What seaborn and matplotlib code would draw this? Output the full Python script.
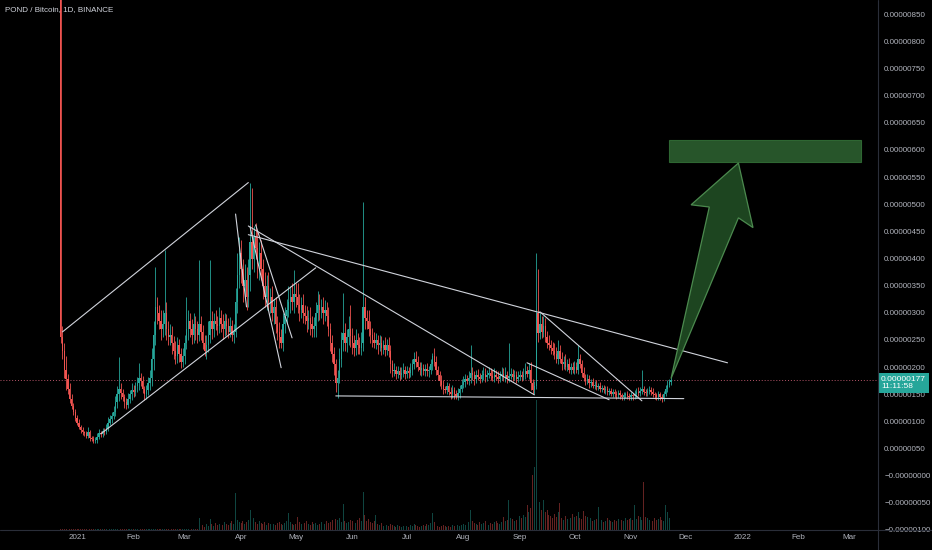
import numpy as np
import pandas as pd
import matplotlib
matplotlib.use("Agg")
import matplotlib.pyplot as plt
import matplotlib.dates as mdates
import matplotlib.transforms as mtransforms
from matplotlib.lines import Line2D
from matplotlib.patches import Polygon, Rectangle
from matplotlib.ticker import FuncFormatter
import seaborn as sns

sns.set_theme(style="dark", rc={"axes.facecolor": "black", "figure.facecolor": "black"})
plt.rcParams["font.family"] = ["Liberation Sans", "DejaVu Sans"]

# daily POND/BTC candles, prices in satoshi (1e-8 BTC)
first_day = "2020-12-23"
first_open = 950
closes = [
    255, 230, 195, 178, 160, 142, 128, 118, 106,  # Dec
    98, 90, 84, 80, 78, 74, 80, 70, 68, 64, 66, 72, 78, 76, 82, 80, 88, 98, 104, 110,
    118, 135, 150, 160, 152, 145, 135, 130, 142, 150, 158,  # Jan
    155, 165, 170, 180, 175, 160, 150, 158, 170, 180, 215, 260, 310, 300, 285, 270, 280, 300,
    270, 255, 260, 245, 230, 220, 240, 225, 210, 220,  # Feb
    245, 270, 285, 270, 260, 280, 270, 260, 280, 265, 245, 230, 240, 260, 285, 270, 285, 280,
    275, 290, 280, 270, 285, 275, 265, 275, 260, 265, 320, 370, 410,  # Mar
    380, 350, 360, 330, 370, 430, 400, 440, 420, 390, 410, 380, 350, 330, 350, 320, 330, 300,
    310, 280, 265, 255, 245, 280, 295, 305, 320, 330, 320, 335,  # Apr
    330, 315, 305, 315, 300, 295, 285, 290, 280, 270, 275, 300, 315, 305, 310, 300, 305, 295,
    270, 245, 225, 205, 170, 180, 215, 250, 262, 245, 255, 270, 258,  # May
    245, 235, 250, 240, 235, 245, 310, 290, 285, 270, 260, 250, 245, 250, 240, 245, 235, 240,
    232, 240, 230, 205, 192, 195, 188, 192, 186, 190, 195, 188,  # Jun
    192, 190, 195, 205, 215, 210, 200, 195, 198, 193, 196, 192, 195, 205, 220, 210, 195, 185,
    175, 168, 160, 158, 165, 155, 150, 158, 150, 146, 152, 160, 168,  # Jul
    172, 178, 175, 180, 190, 185, 178, 185, 182, 178, 185, 188, 182, 186, 190, 184, 180, 186,
    182, 178, 184, 188, 181, 185, 180, 184, 188, 182, 185, 178, 182,  # Aug
    185, 182, 186, 192, 188, 195, 170, 158, 165, 300, 262, 280, 265, 275, 255, 245, 240, 235,
    230, 225, 215, 230, 215, 205, 210, 200, 205, 195, 200, 195,  # Sep
    200, 195, 215, 205, 190, 180, 175, 178, 170, 172, 166, 168, 163, 165, 160, 162, 157, 160,
    154, 156, 151, 154, 150, 148, 152, 148, 145, 148, 150, 147, 145,  # Oct
    148, 146, 150, 155, 152, 156, 160, 155, 152, 156, 158, 155, 150, 148, 145, 150, 145, 142,
    150, 160, 168, 172, 177,  # Nov
]
wick_up = [
    150, 20, 15, 25, 10, 10, 8, 6, 5,
    5, 6, 4, 5, 3, 4, 10, 5, 4, 6, 5, 6, 8, 4, 6, 5, 8, 10, 7, 8, 10, 12, 15, 59, 10, 8, 6, 8, 10, 8, 12,
    10, 8, 12, 28, 10, 8, 6, 10, 12, 15, 20, 25, 75, 20, 15, 20, 25, 116, 20, 15, 20, 15, 12, 18, 15, 12, 10, 15,
    15, 60, 20, 15, 18, 20, 15, 15, 118, 15, 12, 15, 20, 25, 113, 18, 15, 20, 15, 20, 15, 18, 15, 12, 15, 18, 12, 15, 25, 40, 30,
    25, 20, 30, 25, 30, 109, 100, 20, 25, 30, 20, 25, 20, 25, 20, 25, 15, 20, 15, 20, 15, 18, 15, 20, 15, 20, 30, 20, 25, 44,
    20, 25, 20, 15, 20, 15, 18, 15, 20, 15, 18, 20, 25, 20, 15, 20, 18, 15, 15, 12, 15, 12, 10, 15, 20, 15, 75, 20, 15, 25, 45,
    15, 15, 20, 12, 15, 20, 195, 20, 15, 20, 15, 12, 15, 12, 10, 15, 12, 10, 15, 12, 15, 10, 8, 12, 8, 10, 8, 10, 12, 8,
    10, 8, 12, 10, 12, 15, 10, 10, 12, 8, 10, 12, 8, 10, 6, 15, 10, 8, 8, 10, 8, 6, 8, 6, 8, 10, 6, 8, 10, 8, 10,
    12, 10, 8, 12, 51, 10, 8, 10, 12, 8, 10, 12, 10, 8, 10, 8, 10, 12, 8, 10, 8, 12, 10, 15, 8, 61, 10, 8, 10, 8, 10,
    10, 8, 12, 15, 10, 12, 15, 8, 10, 110, 80, 20, 15, 20, 15, 12, 15, 10, 12, 15, 12, 20, 10, 12, 10, 15, 10, 12, 8, 10,
    12, 10, 25, 10, 8, 10, 8, 10, 8, 6, 8, 6, 8, 6, 8, 6, 5, 6, 5, 6, 5, 6, 5, 6, 5, 6, 5, 6, 5, 6, 5,
    6, 5, 8, 6, 8, 8, 35, 6, 5, 6, 8, 5, 6, 5, 5, 6, 5, 5, 6, 8, 8, 6, 5,
]
wick_dn = [
    10, 15, 15, 20, 10, 8, 6, 6, 5,
    5, 4, 6, 5, 4, 5, 4, 6, 4, 3, 4, 5, 4, 5, 4, 5, 4, 6, 5, 6, 5, 8, 10, 12, 10, 8, 10, 8, 6, 8, 10,
    10, 8, 10, 12, 10, 8, 10, 8, 10, 12, 15, 20, 20, 20, 15, 20, 15, 20, 20, 15, 15, 20, 15, 15, 12, 15, 12, 10,
    15, 12, 20, 15, 18, 15, 20, 15, 12, 15, 12, 10, 15, 12, 15, 18, 15, 12, 15, 12, 15, 18, 12, 15, 12, 10, 12, 15, 10, 20, 25,
    25, 30, 20, 25, 20, 30, 20, 25, 20, 25, 30, 20, 25, 20, 25, 15, 20, 15, 20, 18, 15, 20, 10, 15, 18, 15, 12, 20, 15, 20,
    20, 15, 20, 15, 18, 15, 20, 15, 20, 15, 15, 20, 15, 18, 15, 20, 15, 20, 12, 15, 15, 20, 15, 27, 10, 15, 20, 15, 18, 15, 20,
    20, 15, 12, 15, 10, 12, 15, 20, 15, 12, 15, 12, 10, 12, 15, 10, 12, 10, 12, 10, 12, 15, 10, 8, 10, 8, 10, 8, 8, 10,
    8, 10, 8, 10, 8, 10, 8, 10, 12, 8, 10, 8, 10, 8, 10, 8, 10, 8, 10, 8, 10, 6, 8, 6, 8, 6, 8, 5, 6, 8, 6,
    6, 8, 6, 8, 10, 8, 10, 8, 6, 8, 6, 8, 10, 8, 6, 8, 6, 8, 6, 8, 6, 8, 6, 8, 10, 8, 6, 8, 6, 8, 6,
    6, 8, 6, 8, 6, 10, 12, 8, 8, 5, 15, 10, 12, 10, 8, 10, 8, 10, 8, 10, 8, 10, 8, 10, 8, 6, 8, 6, 8, 6,
    8, 6, 8, 6, 8, 6, 8, 6, 8, 6, 5, 6, 5, 6, 5, 6, 5, 6, 5, 6, 5, 6, 5, 6, 5, 6, 5, 6, 5, 6, 5,
    5, 6, 5, 6, 5, 6, 5, 6, 5, 6, 5, 6, 5, 6, 5, 6, 5, 6, 5, 4, 5, 4, 5,
]
volume = [
    1, 1, 1, 1, 1, 1, 1, 1, 1,
    1, 1, 1, 1, 1, 1, 1, 1, 1, 1, 1, 1, 1, 1, 1, 1, 1, 1, 1, 1, 1, 1, 1, 1, 1, 1, 1, 1, 1, 1, 1,
    1, 1, 1, 1, 1, 1, 1, 1, 1, 1, 1, 1, 1, 1, 1, 1, 1, 1, 1, 1, 1, 1, 1, 1, 1, 1, 1, 1,
    1, 1, 1, 1, 1, 1, 1, 1, 12, 4, 5, 3, 6, 4, 11, 6, 4, 7, 5, 6, 4, 5, 8, 6, 5, 7, 9, 6, 37, 10, 8,
    7, 9, 6, 8, 10, 20, 15, 12, 8, 6, 9, 7, 6, 8, 5, 7, 6, 9, 6, 5, 7, 8, 6, 5, 7, 9, 17, 8, 6, 5,
    6, 13, 8, 6, 5, 7, 9, 6, 5, 8, 6, 7, 5, 6, 8, 7, 6, 9, 7, 8, 10, 9, 11, 10, 12, 8, 26, 9, 7, 8, 10,
    9, 8, 7, 10, 12, 9, 38, 15, 9, 11, 8, 7, 9, 15, 6, 5, 7, 4, 6, 5, 4, 6, 5, 4, 3, 5, 4, 3, 4, 5,
    4, 3, 5, 4, 6, 5, 4, 3, 4, 5, 4, 6, 5, 7, 17, 8, 5, 4, 3, 4, 5, 4, 3, 4, 3, 5, 4, 6, 5, 4, 5,
    6, 5, 7, 8, 20, 9, 7, 6, 5, 8, 6, 7, 9, 6, 5, 7, 6, 8, 9, 7, 6, 8, 13, 9, 10, 30, 12, 11, 9, 10, 12,
    14, 12, 15, 13, 25, 18, 22, 55, 63, 130, 40, 28, 20, 30, 18, 20, 15, 14, 12, 16, 13, 18, 27, 12, 10, 14, 11, 15, 12, 16,
    13, 14, 18, 12, 11, 19, 14, 13, 10, 12, 9, 10, 11, 23, 9, 10, 8, 9, 12, 10, 9, 8, 10, 9, 11, 8, 10, 9, 12, 10, 11,
    12, 10, 25, 11, 14, 13, 10, 48, 13, 12, 10, 11, 9, 12, 10, 11, 13, 10, 9, 25, 18, 12, 8,
]

# drawings (date, price) pairs
trend_lines = [
    (("2020-12-24", 265), ("2021-04-05", 540)),
    (("2021-01-14", 77), ("2021-05-12", 383)),
    (("2021-04-05", 444), ("2021-12-24", 208)),
    (("2021-04-05", 460), ("2021-09-09", 149)),
    (("2021-05-23", 147), ("2021-11-30", 142)),
    (("2021-09-12", 302), ("2021-11-07", 138)),
    (("2021-09-05", 208), ("2021-10-20", 140)),
    (("2021-03-29", 482), ("2021-04-04", 311)),
    (("2021-04-06", 458), ("2021-04-23", 199)),
    (("2021-04-09", 462), ("2021-04-29", 254)),
]
target_dates = ("2021-11-22", "2022-03-07")
target_prices = (578, 619)
arrow_dates = ["2021-12-30", "2022-01-07", "2021-12-30", "2021-11-23", "2021-12-14", "2021-12-04"]
arrow_prices = [576, 457, 475, 179, 495, 499]

UP, DOWN = "#26a69a", "#ef5350"
TXT = "#b2b5be"
EDGE = "#2a2e39"

dates = pd.date_range(first_day, periods=len(closes), freq="D")
x = mdates.date2num(dates)
c = np.array(closes, float)
o = np.r_[first_open, c[:-1]]
hi = np.maximum(o, c) + np.array(wick_up)
lo = np.minimum(o, c) - np.array(wick_dn)
up = c >= o
cols = np.where(up, UP, DOWN)

W, H = 932, 550
fig = plt.figure(figsize=(W / 100, H / 100), dpi=100)
ax = fig.add_axes([0, 20 / H, 878 / W, 530 / H])
axv = ax.twinx()

# volume
axv.bar(x, volume, width=0.5, color=cols, alpha=0.42, linewidth=0)
axv.set_ylim(0, 530)
axv.set_yticks([])
for s in axv.spines.values():
    s.set_visible(False)
ax.set_zorder(axv.get_zorder() + 1)
ax.patch.set_visible(False)

# candles
ax.vlines(x, lo, hi, colors=cols, linewidth=0.6, zorder=3)
ax.bar(x, np.maximum(np.abs(c - o), 1.0), bottom=np.minimum(o, c), width=0.72,
       color=cols, linewidth=0, zorder=4)

# last price line
ax.axhline(c[-1], color="#b8566a", linestyle=(0, (1, 2)), linewidth=0.7, zorder=2)

# trend lines
for (d0, p0), (d1, p1) in trend_lines:
    xs = mdates.date2num(pd.to_datetime([d0, d1]))
    sns.lineplot(x=xs, y=[p0, p1], ax=ax, color="#d1d4dc", linewidth=0.8, zorder=5)

# target box and arrow
tx = mdates.date2num(pd.to_datetime(list(target_dates)))
ax.add_patch(Rectangle((tx[0], target_prices[0]), tx[1] - tx[0],
                       target_prices[1] - target_prices[0],
                       facecolor="#27552a", edgecolor="#2e6632", linewidth=0.8, zorder=6))
ax_pts = np.column_stack([mdates.date2num(pd.to_datetime(arrow_dates)), arrow_prices])
ax.add_patch(Polygon(ax_pts, closed=True, facecolor="#1f4a22", edgecolor="#4f8f52",
                     linewidth=0.9, alpha=0.95, zorder=6))

jan1 = mdates.date2num(pd.Timestamp("2021-01-01"))
ax.set_xlim(jan1 - 42.3, jan1 + 439.6)
ax.set_ylim(-99.4, 876.3)

ticks = pd.date_range("2021-01-01", "2022-03-01", freq="MS")
ax.set_xticks(mdates.date2num(ticks))
ax.set_xticklabels([str(d.year) if d.month == 1 else d.strftime("%b") for d in ticks])
ax.set_yticks(np.arange(-100, 851, 50))
ax.yaxis.set_major_formatter(FuncFormatter(
    lambda v, p: ("\u2212" if v <= 0 else "") + f"{abs(v) * 1e-8:.8f}"))
ax.yaxis.tick_right()
ax.tick_params(axis="y", length=0, pad=4.5, labelsize=5.8, labelcolor=TXT)
ax.tick_params(axis="x", length=0, pad=3, labelsize=5.8, labelcolor=TXT)
ax.set_xlabel("")
ax.set_ylabel("")
ax.grid(False)
for s in ax.spines.values():
    s.set_visible(False)

fig.add_artist(Line2D([878 / W, 878 / W], [0, 1], color=EDGE, linewidth=0.8))
fig.add_artist(Line2D([0, 1], [20 / H, 20 / H], color=EDGE, linewidth=0.8))

# last price label
trans = mtransforms.blended_transform_factory(ax.transAxes, ax.transData)
ax.annotate(f"{c[-1] * 1e-8:.8f}\n11:11:58", xy=(1, c[-1]), xycoords=trans,
            xytext=(2.2, 2.8), textcoords="offset points", ha="left", va="top",
            fontsize=6.0, color="white", linespacing=1.05, annotation_clip=False,
            bbox=dict(boxstyle="square,pad=0.35", fc=UP, ec="none"), zorder=10)

fig.text(5 / W, 1 - 10 / H, "POND / Bitcoin, 1D, BINANCE", fontsize=5.8,
         color="#d1d4dc", va="center", ha="left", zorder=10)

fig.savefig("out.png", dpi=100, facecolor="black")
